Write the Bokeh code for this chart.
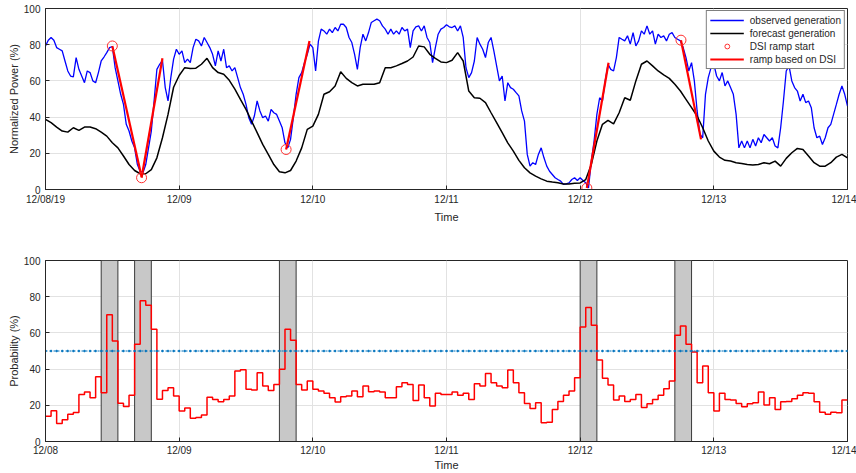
import numpy as np
from bokeh.plotting import figure
from bokeh.layouts import column
from bokeh.models import Range1d, FixedTicker, Legend, LegendItem, CustomJSTickFormatter
from bokeh.embed import file_html
from bokeh.resources import INLINE

# ---------------- data ----------------
day_ticks = [0, 24, 48, 72, 96, 120, 144]
top_tick_labels = ["12/08/19", "12/09", "12/10", "12/11", "12/12", "12/13", "12/14"]
bottom_tick_labels = ["12/08", "12/09", "12/10", "12/11", "12/12", "12/13", "12/14"]
y_ticks = [0, 20, 40, 60, 80, 100]

# observed generation (%), half-hourly from 12/08 00:00
observed = [
    79.3, 82.5, 84, 82.5, 78.4, 77.5, 76.6, 71, 65.5, 62.7, 62.2, 72.9, 66.4, 62.7, 59, 65.5, 64.6, 60, 59, 64.6, 71, 73.2, 75.6, 78.4,
    79, 67.3, 60, 52.6, 47, 36, 32.3, 26.8, 23, 13.8, 10, 9.2, 13.8, 23, 32.3, 48.9, 66.4, 69.2, 71.4, 56.3, 48.9, 61.8, 72, 77.5,
    74.7, 76.6, 70.1, 72, 70.1, 78.4, 83, 82.1, 79.3, 84, 81.2, 78.4, 74.7, 68.3, 76.6, 71, 77.5, 67.3, 68.3, 65.5, 67.3, 61.8, 56.3, 52.6,
    47, 39.7, 36, 40.6, 48.9, 43.4, 39.7, 40.6, 37.8, 44.3, 42.4, 41.5, 37.8, 34.1, 25.8, 23, 27.7, 39.7, 52.6, 61.8, 64.6, 70.1, 74.7, 80.3,
    78.4, 65.5, 82, 88.6, 87.6, 85.8, 88.6, 86.7, 89.5, 87.6, 91.3, 91.3, 89.5, 84, 81.2, 74.7, 66.4, 78.4, 85.8, 82.1, 86.7, 92.3, 93.2, 94.1,
    93.2, 90.4, 88.6, 85.8, 88.6, 85.8, 87.6, 85.8, 89.5, 87.6, 88.6, 78.4, 87.6, 89.9, 90.4, 87.6, 90.4, 84, 81.2, 70.1, 78.4, 85.8, 88.6, 89.5,
    91, 89.9, 89.5, 90.4, 87.6, 90.4, 84, 67.3, 61.8, 64.6, 71, 84, 80.3, 77.5, 72.9, 81.2, 84, 76.6, 68.3, 60, 62.7, 48.9, 59, 56.3,
    55.4, 53.5, 51.7, 43.4, 37.8, 19.4, 12.9, 14.8, 13.8, 19.4, 23, 17.5, 12.9, 10.1, 8.3, 6.5, 5.5, 4.6, 2.8, 3.1, 3.7, 5.5, 6.5, 5,
    6.5, 5, 3.7, 0.9, 15.7, 26.8, 41.5, 50.7, 48.9, 60, 69.2, 66.4, 65.5, 72.9, 84, 83, 82.1, 84.9, 80.3, 86.7, 79.3, 82.1, 87.6, 85.8,
    90.4, 85.8, 87.6, 80.3, 85.8, 84, 84.9, 82.1, 85.8, 86.7, 84, 83, 82.1, 78.4, 72.9, 65.5, 70.1, 60, 43.4, 30.4, 28.6, 52.6, 61.8, 67.3,
    69.2, 62.7, 60, 64.6, 57.2, 60, 56.3, 52.6, 41.5, 23, 26.8, 23, 26.8, 23, 27.7, 24, 28.6, 25.8, 30.4, 28.6, 26.8, 28.6, 24, 23,
    34.1, 48.9, 65.5, 68.3, 60, 56.3, 54.4, 48.9, 52.6, 48, 48.9, 45.2, 34.1, 28.6, 29.5, 24.9, 28.6, 34.1, 36, 41.5, 47, 52.6, 57.2, 52.6, 46.1,
]

# forecast generation (%), hourly from 12/08 00:00
forecast = [
    38.7, 36.9, 34.5, 32.3, 31.7, 34.1, 32.7, 34.5, 34.5, 33.6, 31.7, 29.5, 25.8, 23.0, 18.5, 13.8, 10.5, 8.7, 8.7, 11.0, 17.5, 28.6, 41.5, 56.5,
    63.0, 67.3, 66.8, 67.0, 69.2, 72.5, 67.3, 64.6, 63.7, 60.3, 55.4, 49.8, 44.3, 37.8, 31.4, 24.9, 19.4, 13.8, 9.8, 9.2, 10.5, 15.7, 23.0, 33.2,
    35.0, 41.5, 52.6, 54.0, 57.2, 65.1, 61.4, 59.0, 57.2, 58.1, 58.1, 58.1, 59.0, 67.3, 67.3, 68.3, 69.6, 71.0, 73.2, 79.3, 78.8, 74.7, 72.5, 70.5,
    70.1, 71.4, 75.6, 71.0, 54.4, 50.7, 50.4, 48.0, 42.4, 36.9, 31.4, 25.8, 21.2, 16.1, 12.0, 9.2, 7.4, 5.9, 4.6, 4.1, 3.7, 3.1, 3.1, 3.5,
    3.6, 5.5, 13.8, 26.8, 36.0, 38.2, 36.3, 42.4, 50.7, 49.3, 60.0, 69.2, 71.0, 68.3, 65.5, 63.3, 61.4, 58.1, 54.4, 49.8, 45.2, 40.6, 34.1, 26.8,
    21.2, 17.9, 16.1, 15.7, 14.8, 14.4, 13.8, 13.5, 13.8, 14.8, 14.2, 15.7, 12.9, 17.2, 20.3, 22.7, 22.1, 18.5, 14.8, 12.9, 12.9, 14.8, 17.9, 19.4,
    17.5,
]

# DSI ramps (hours from 12/08 00:00, %)
ramp_start_hour = [12.0, 17.25, 43.2, 97.2, 114.1]
ramp_start_value = [79.3, 6.5, 22.1, 0.8, 82.5]
ramp_end_hour = [17.25, 21.0, 47.4, 101.1, 117.7]
ramp_end_value = [7.0, 72.5, 82.0, 70.0, 27.7]

# ramp probability (%), hourly
probability = [
    14, 17, 10, 12, 15, 16, 26, 27.3, 24.2, 35.8, 27, 70, 55.5, 21.2, 19.4, 25.5, 53.7, 77.7, 75.3, 62, 23.4, 28.2, 29.7, 25.1,
    16.8, 18.5, 12.9, 13.3, 14.6, 24.5, 23.2, 22, 23.2, 25.1, 38.9, 39.7, 28.8, 28.4, 38, 30.6, 28.2, 31.5, 39.9, 62, 56, 31.5, 28.4, 33.4,
    28.8, 27.9, 26.6, 24.2, 21.8, 24.7, 25.1, 27.9, 24.7, 30.6, 27.5, 27.9, 27.3, 24.2, 24.2, 30.3, 32.5, 31.5, 22.7, 31.2, 24.2, 19.6, 26.6, 26,
    26, 27.3, 25.5, 26.6, 23.2, 31.9, 30.6, 37.6, 32.5, 30.6, 29.7, 39.5, 32.5, 26.9, 21, 18.3, 21.4, 10.3, 10.7, 17.7, 22.1, 25.5, 27.9, 35.2,
    63.3, 74, 64.2, 45, 34.9, 31.2, 22.9, 25.1, 22.1, 23.2, 26, 18.8, 20.8, 23.2, 25.5, 29.2, 33.4, 58.7, 63.8, 53.7, 49.4, 32.5, 41.7, 26.9,
    16.8, 26.6, 23.2, 22.9, 21, 19.2, 20.8, 21.4, 27.3, 20.1, 24.2, 17.7, 22, 22.1, 23.6, 25.5, 26.9, 26.6, 22, 16.2, 15.1, 16.2, 15.9, 22.9,
]
window_start = [10, 16, 42, 96, 113]
window_end = [13, 19, 45, 99, 116]
threshold = 50

# ---------------- styling helpers ----------------
FONT = "Liberation Sans"
AX = "#262626"


def make_fig(height, border_top, border_bottom, ylabel, labels, x_label_standoff, x_axis_label_standoff):
    p = figure(width=856, height=height, output_backend="svg", toolbar_location=None,
               x_range=Range1d(0, 144), y_range=Range1d(0, 100),
               min_border_left=45, min_border_right=9,
               min_border_top=border_top, min_border_bottom=border_bottom)
    p.background_fill_color = "white"
    p.border_fill_color = "white"
    p.outline_line_color = AX
    p.outline_line_width = 1
    p.xaxis.ticker = FixedTicker(ticks=day_ticks)
    p.xaxis.formatter = CustomJSTickFormatter(args=dict(labels=labels),
                                              code="return labels[Math.round(tick/24)];")
    p.yaxis.ticker = FixedTicker(ticks=y_ticks)
    for ax in (p.xaxis, p.yaxis):
        ax.axis_line_color = AX
        ax.major_tick_line_color = AX
        ax.major_tick_in = 4
        ax.major_tick_out = 0
        ax.minor_tick_line_color = None
        ax.major_label_text_font = FONT
        ax.major_label_text_font_size = "10px"
        ax.major_label_text_color = AX
        ax.axis_label_text_font = FONT
        ax.axis_label_text_font_size = "11px"
        ax.axis_label_text_font_style = "normal"
        ax.axis_label_text_color = AX
    p.xaxis.axis_label = "Time"
    p.xaxis.major_label_standoff = x_label_standoff
    p.xaxis.axis_label_standoff = x_axis_label_standoff
    p.yaxis.axis_label = ylabel
    p.yaxis.major_label_standoff = 5
    p.yaxis.axis_label_standoff = 1
    p.grid.grid_line_color = "#e2e2e2"
    p.grid.grid_line_width = 1
    return p


# ---------------- top chart ----------------
p1 = make_fig(240, 8, 51, "Normalized Power (%)", top_tick_labels, 4, 3)
obs_x = np.arange(len(observed)) * 0.5
fc_x = np.arange(len(forecast)) * 1.0
r_obs = p1.line(obs_x, observed, line_color="#0000FF", line_width=1.3)
r_fc = p1.line(fc_x, forecast, line_color="black", line_width=1.5)
r_ramp = p1.segment(ramp_start_hour, ramp_start_value, ramp_end_hour, ramp_end_value,
                    line_color="#FF0000", line_width=2.2)
r_dsi = p1.scatter(ramp_start_hour, ramp_start_value, marker="circle", size=10,
                   fill_color=None, line_color="#FF3030", line_width=1)

legend = Legend(items=[
    LegendItem(label="observed generation", renderers=[r_obs]),
    LegendItem(label="forecast generation", renderers=[r_fc]),
    LegendItem(label="DSI ramp start", renderers=[r_dsi]),
    LegendItem(label="ramp based on DSI", renderers=[r_ramp]),
], location="top_right")
legend.border_line_color = "black"
legend.border_line_width = 1
legend.background_fill_color = "white"
legend.background_fill_alpha = 1
legend.label_text_font = FONT
legend.label_text_font_size = "10px"
legend.label_text_color = AX
legend.glyph_width = 34
legend.glyph_height = 12
legend.label_height = 11
legend.label_standoff = 6
legend.spacing = 1
legend.padding = 3
legend.margin = 2
p1.add_layout(legend)

# ---------------- bottom chart ----------------
p2 = make_fig(233, 20, 32, "Probability (%)", bottom_tick_labels, 3, 0)
p2.quad(left=window_start, right=window_end, bottom=0, top=100,
        fill_color="#C8C8C8", line_color="#3a3a3a", line_width=1)
step_x = np.arange(len(probability) + 1)
step_y = probability + [probability[-1]]
p2.step(step_x, step_y, mode="after", line_color="#FF0000", line_width=1.5)
thr_x = np.arange(0, 145)
thr_y = np.full(len(thr_x), threshold)
p2.line(thr_x, thr_y, line_color="#0072BD", line_width=1, line_dash="2 2")
p2.scatter(thr_x, thr_y, marker="circle", size=2, fill_color="#0072BD", line_color="#0072BD",
           line_width=0.5)

layout = column(p1, p2, spacing=0)
open("out.html", "w").write(file_html(layout, INLINE))
